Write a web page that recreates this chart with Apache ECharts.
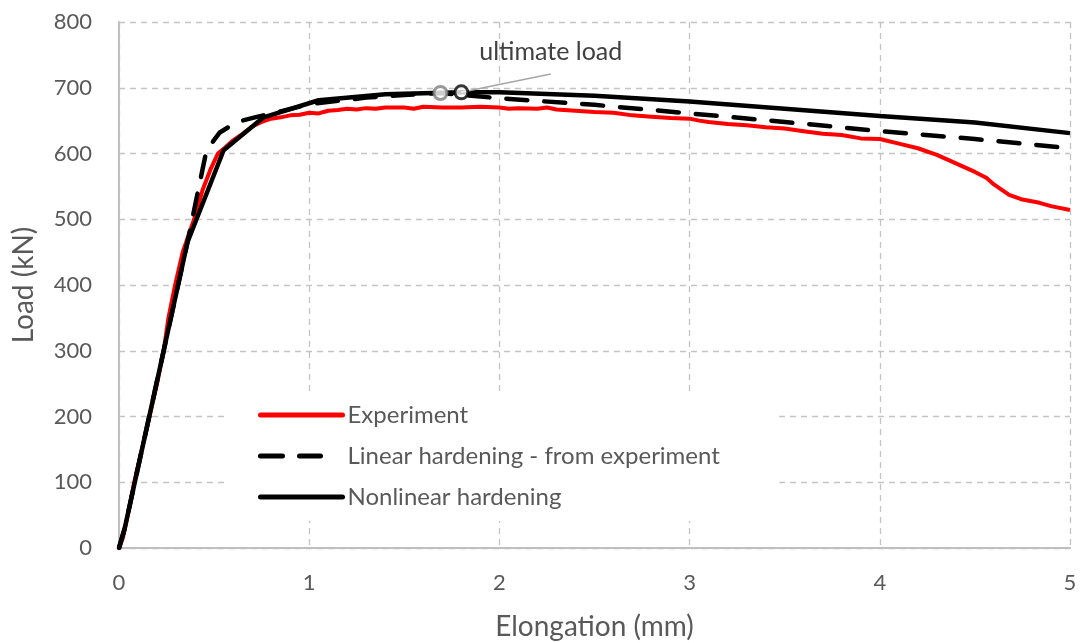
<!DOCTYPE html>
<html><head><meta charset="utf-8">
<script src="https://cdn.jsdelivr.net/npm/echarts@6/dist/echarts.min.js"></script>
<style>html,body{margin:0;padding:0;background:#fff}#c{width:1081px;height:643px}</style>
</head><body><div id="c"></div>
<script>
const experiment = [[0,0],[0.02,15],[0.05,55],[0.08,100],[0.12,150],[0.16,200],[0.2,250],[0.235,300],[0.26,350],[0.295,400],[0.335,450],[0.395,500],[0.44,545],[0.48,575],[0.52,600],[0.55,607],[0.6,620],[0.65,630],[0.7,641],[0.75,648],[0.8,653],[0.85,655],[0.9,658],[0.95,659],[1.0,662],[1.05,661],[1.1,665],[1.15,666],[1.2,668],[1.25,667],[1.3,669],[1.35,668],[1.4,670],[1.5,670],[1.55,668],[1.6,671],[1.7,670],[1.8,670],[1.9,671],[2.0,670],[2.05,668],[2.1,669],[2.2,668],[2.25,670],[2.3,667],[2.4,665],[2.5,663],[2.6,662],[2.7,658],[2.8,656],[2.9,654],[3.0,653],[3.05,650],[3.1,648],[3.2,645],[3.3,643],[3.4,640],[3.5,638],[3.6,634],[3.7,630],[3.8,628],[3.9,623],[4.0,622],[4.1,615],[4.2,608],[4.3,598],[4.4,585],[4.5,572],[4.56,563],[4.6,553],[4.68,537],[4.75,530],[4.84,525],[4.9,520],[5.0,514]];
const linearHardening = [[0,0],[0.03,30],[0.36,465],[0.46,605],[0.53,632],[0.62,648],[0.73,656],[0.85,664],[1.0,675],[1.3,685],[1.5,689],[1.69,692],[2.0,684],[2.5,674],[3.0,661],[3.5,648],[4.0,634],[4.5,622],[5.0,608]];
const nonlinearHardening = [[0,0],[0.03,30],[0.36,465],[0.55,605],[0.76,655],[1.05,681],[1.4,690],[1.8,693],[2.0,693],[2.5,688],[3.0,679],[3.5,668],[4.0,657],[4.5,647],[5.0,631]];
const ultimateLinear = [[1.69,692]];
const ultimateNonlinear = [[1.80,693]];
const annotationLine = [[1.80,693],[2.27,721]];
const annotationText = {x:2.27, y:754, text:'ultimate load'};
const seriesNames = ['Experiment','Linear hardening - from experiment','Nonlinear hardening'];

const font = 'Lato, "Open Sans", sans-serif';
const legendBase = {orient:'vertical',left:228,backgroundColor:'#fff',
  itemWidth:82,itemHeight:20,itemGap:0,itemStyle:{opacity:0},
  textStyle:{fontFamily:font,fontSize:24,color:'#595959',lineHeight:24}};
const chart = echarts.init(document.getElementById('c'), null, {renderer:'canvas'});
chart.setOption({
  animation:false,
  backgroundColor:'#fff',
  grid:{left:119,right:11,top:22,bottom:95,containLabel:false,outerBoundsMode:'none'},
  xAxis:{type:'value',min:0,max:5,interval:1,
    name:'Elongation (mm)',nameLocation:'middle',nameGap:65,
    nameTextStyle:{fontFamily:font,fontSize:28,color:'#595959'},
    axisLine:{show:true,lineStyle:{color:'#bfbfbf',width:2}},
    axisTick:{show:false},
    axisLabel:{fontFamily:font,fontSize:22,color:'#595959',margin:24},
    splitLine:{show:true,lineStyle:{color:'#c4c4c4',type:[6,5],width:1.3}}},
  yAxis:{type:'value',min:0,max:800,interval:100,
    name:'Load (kN)',nameLocation:'middle',nameGap:81,
    nameTextStyle:{fontFamily:font,fontSize:28,color:'#595959'},
    axisLine:{show:true,lineStyle:{color:'#bfbfbf',width:2}},
    axisTick:{show:false},
    axisLabel:{fontFamily:font,fontSize:22,color:'#595959',margin:27},
    splitLine:{show:true,lineStyle:{color:'#c4c4c4',type:[6,5],width:1.3}}},
  legend:[
    Object.assign({}, legendBase, {top:394, padding:[9,311,9,30], data:[seriesNames[0]],
      lineStyle:{width:5,cap:'round'}}),
    Object.assign({}, legendBase, {top:435, padding:[9,60,8,30], data:[seriesNames[1]],
      lineStyle:{width:5,cap:'round',type:[22,17,21,100]}}),
    Object.assign({}, legendBase, {top:476, padding:[9,218,12,30], data:[seriesNames[2]],
      lineStyle:{width:5,cap:'round'}})
  ],
  series:[
    {name:seriesNames[0],type:'line',data:experiment,showSymbol:false,symbol:'none',
     lineStyle:{color:'#ff0000',width:4},itemStyle:{color:'#ff0000'},z:2},
    {name:seriesNames[1],type:'line',data:linearHardening,showSymbol:false,symbol:'none',
     lineStyle:{color:'#000',width:4.5,type:[21,17],cap:'round'},itemStyle:{color:'#000'},z:3},
    {name:seriesNames[2],type:'line',data:nonlinearHardening,showSymbol:false,symbol:'none',
     lineStyle:{color:'#000',width:4.5},itemStyle:{color:'#000'},z:4,
     markLine:{silent:true,symbol:['none','none'],lineStyle:{color:'#a6a6a6',width:1.5,type:'solid'},label:{show:false},
       data:[[{coord:annotationLine[0]},{coord:annotationLine[1]}]]},
     markPoint:{silent:true,symbol:'circle',symbolSize:0,
       data:[{coord:[annotationText.x,annotationText.y],value:annotationText.text}],
       label:{show:true,position:'inside',formatter:annotationText.text,fontFamily:font,fontSize:25,color:'#404040'}}},
    {name:'ultLin',type:'scatter',data:ultimateLinear,symbol:'circle',symbolSize:13,
     itemStyle:{color:'#fff',borderColor:'#7f7f7f',borderWidth:3},z:6},
    {name:'ultNon',type:'scatter',data:ultimateNonlinear,symbol:'circle',symbolSize:13,
     itemStyle:{color:'#fff',borderColor:'#000',borderWidth:3},z:6}
  ]
});
</script></body></html>
